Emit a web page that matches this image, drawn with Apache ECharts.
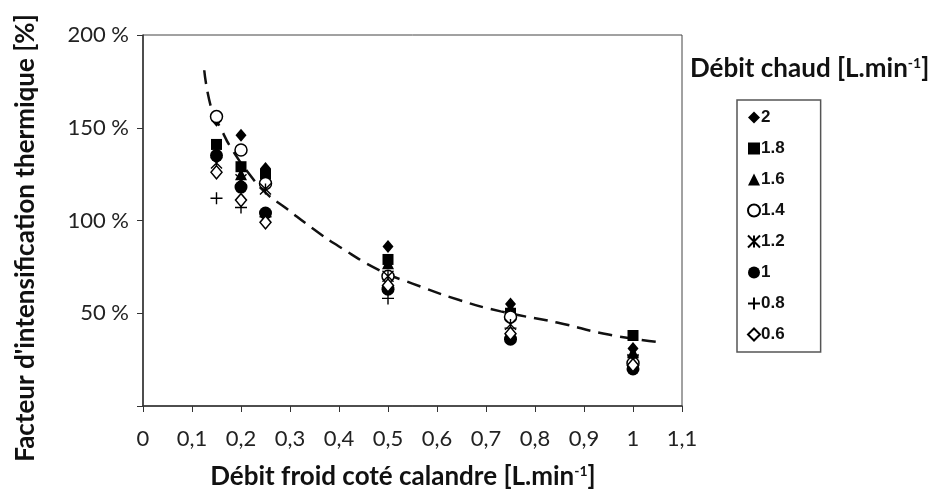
<!DOCTYPE html>
<html><head><meta charset="utf-8">
<script src="https://cdn.jsdelivr.net/npm/echarts@6/dist/echarts.min.js"></script>
<style>html,body{margin:0;padding:0;background:#fff}#c{width:935px;height:491px}</style>
</head><body><div id="c"></div>
<script>
const xFroid = [0.15, 0.2, 0.25, 0.5, 0.75, 1];
const seriesNames = ['2', '1.8', '1.6', '1.4', '1.2', '1', '0.8', '0.6'];
const v2  = [154, 146, 128, 86, 55, 31];
const v18 = [141, 129, 125, 79, 50, 38];
const v16 = [137, 125, 122, 77, 53, 29];
const v14 = [156, 138, 120, 70, 48, 23];
const v12 = [131, 122, 117, 70, 44, 25];
const v1  = [135, 118, 104, 63, 36, 20];
const v08 = [112, 107, 102, 58, 42, 27];
const v06 = [126, 111, 99, 65, 39, 22];
const trendX = [0.125, 0.14, 0.16, 0.18, 0.22, 0.25, 0.29, 0.35, 0.4, 0.484, 0.55, 0.647, 0.73, 0.845, 0.95, 1.05];
const trendY = [181, 160, 149, 139, 124, 115, 107, 95, 86, 73, 66, 57, 51, 45, 38.5, 34.5];
const xTicks = ['0','0,1','0,2','0,3','0,4','0,5','0,6','0,7','0,8','0,9','1','1,1'];
const xTitle = 'Débit froid coté calandre [L.min{sup|-1}]';
const yTitle = "Facteur d'intensification thermique [%]";
const legendTitle = 'Débit chaud [L.min{sup|-1}]';

const allVals = [v2, v18, v16, v14, v12, v1, v08, v06];
const styles = [
  {symbol: 'diamond', size: [11, 13], item: {color: '#000'}},
  {symbol: 'rect', size: 11, item: {color: '#000'}},
  {symbol: 'triangle', size: 12, item: {color: '#000'}},
  {symbol: 'circle', size: 12, item: {color: '#fff', borderColor: '#000', borderWidth: 1.5}},
  {symbol: 'path://M0,0 L10,10 M10,0 L0,10 M5,0 L5,10', size: 11, item: {color: 'rgba(0,0,0,0)', borderColor: '#000', borderWidth: 1.4}},
  {symbol: 'circle', size: 13, item: {color: '#000'}},
  {symbol: 'path://M0,5 L10,5 M5,0 L5,10', size: 12, item: {color: 'rgba(0,0,0,0)', borderColor: '#000', borderWidth: 1.4}},
  {symbol: 'diamond', size: [11, 13], item: {color: '#fff', borderColor: '#000', borderWidth: 1.5}}
];
const series = seriesNames.map((n, i) => ({
  name: n, type: 'scatter', symbol: styles[i].symbol, symbolSize: styles[i].size,
  itemStyle: Object.assign({opacity: 1}, styles[i].item), z: 3,
  data: xFroid.map((x, j) => [x, allVals[i][j]])
}));
series.push({
  name: 'trend', type: 'line', smooth: true, showSymbol: false, symbol: 'none',
  lineStyle: {color: '#111', width: 2.5, type: [14, 8]}, z: 2, silent: true,
  data: trendX.map((x, j) => [x, trendY[j]])
});
const mkSup = (fs) => ({sup: {fontSize: fs, fontWeight: 'bold', fontFamily: 'Lato', fill: '#111', color: '#111', verticalAlign: 'top', lineHeight: fs, padding: [0, 0, fs * 0.9, 0]}});
const chart = echarts.init(document.getElementById('c'));
chart.setOption({
  animation: false,
  grid: {left: 143, top: 35, right: 253, bottom: 85, show: true, borderColor: '#444', borderWidth: 1,
         backgroundColor: 'transparent', containLabel: false, outerBoundsMode: 'none'},
  xAxis: {
    type: 'value', min: 0, max: 1.1, interval: 0.1,
    axisLine: {onZero: false, lineStyle: {color: '#333', width: 1.5}},
    axisTick: {show: true, length: 6, lineStyle: {color: '#333'}},
    splitLine: {show: false},
    axisLabel: {margin: 22, fontSize: 22, fontFamily: 'Lato', color: '#222',
      formatter: v => xTicks[Math.round(v * 10)]}
  },
  yAxis: {
    type: 'value', min: 0, max: 200, interval: 50,
    axisLine: {show: true, lineStyle: {color: '#333', width: 1.5}},
    axisTick: {show: true, length: 6, lineStyle: {color: '#333'}},
    splitLine: {show: false},
    axisLabel: {margin: 14, fontSize: 22, fontFamily: 'Lato', color: '#222',
      formatter: v => v === 0 ? '' : v + ' %'}
  },
  legend: {
    data: seriesNames, orient: 'vertical', left: 737, top: 100, width: 84,
    padding: [9, 36, 9, 10], itemGap: 14, itemWidth: 12, itemHeight: 12,
    borderColor: '#555', borderWidth: 1.5,
    textStyle: {fontSize: 17, fontWeight: 'bold', fontFamily: 'Liberation Sans', color: '#111', padding: [0, 0, 0, -4]}
  },
  graphic: [
    {type: 'text', left: 690, top: 56,
     style: {text: legendTitle, fontSize: 26, fontWeight: 'bold', fontFamily: 'Lato', fill: '#111', rich: mkSup(14)}},
    {type: 'text', x: 403, y: 477,
     style: {text: xTitle, fontSize: 26, fontWeight: 'bold', fontFamily: 'Lato', fill: '#111', align: 'center', verticalAlign: 'middle', rich: mkSup(14)}},
    {type: 'text', x: 26, y: 238, rotation: Math.PI / 2,
     style: {text: yTitle, fontSize: 26, fontWeight: 'bold', fontFamily: 'Lato', fill: '#111', align: 'center', verticalAlign: 'middle'}}
  ],
  series: series
});
</script></body></html>
